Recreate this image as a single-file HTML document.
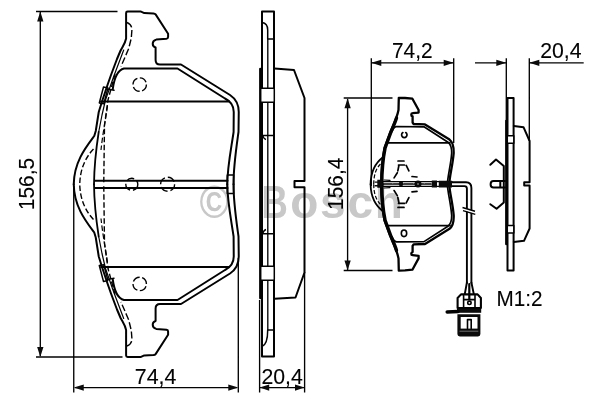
<!DOCTYPE html>
<html>
<head>
<meta charset="utf-8">
<title>Brake pad drawing</title>
<style>
html,body{margin:0;padding:0;background:#fff;}
body{width:600px;height:400px;overflow:hidden;font-family:"Liberation Sans",sans-serif;}
svg{display:block;opacity:0.999;}
text{font-family:"Liberation Sans",sans-serif;fill:#000;stroke:#000;stroke-width:0.12;}
.k{fill:none;stroke:#000;stroke-width:2;stroke-linejoin:round;stroke-linecap:round;}
.m{fill:none;stroke:#000;stroke-width:1.5;stroke-linejoin:round;stroke-linecap:round;}
.t{fill:none;stroke:#000;stroke-width:1.35;}
.d{fill:none;stroke:#000;stroke-width:1.4;stroke-dasharray:5.5 2.5;}
.a{fill:#0a0a0a;stroke:none;}
</style>
</head>
<body>
<svg width="600" height="400" viewBox="0 0 600 400">
<rect width="600" height="400" fill="#fff"/>
<g opacity="0.995">

<!-- watermark -->
<text x="199.4" y="218" font-size="46" font-weight="bold" textLength="29.6" lengthAdjust="spacingAndGlyphs" style="fill:#c8c8c8;stroke:none">©</text>
<text x="261.5" y="218" font-size="46" font-weight="bold" textLength="26.4" lengthAdjust="spacingAndGlyphs" style="fill:#c8c8c8;stroke:none">B</text>
<text x="290.2" y="218" font-size="46" font-weight="bold" style="fill:#c8c8c8;stroke:none;letter-spacing:1.8px">osch</text>

<defs>
<!-- top half of the large pad (mirrored for the bottom half) -->
<g id="LH">
  <!-- outer contour -->
  <path class="k" d="M233.5,184.25 C233.5,166 236,150 238.5,132 L238.75,112 C238.75,104 236,99 230,95 L181,64.5 L160,64.5 Q155.6,64.5 155.6,60 L155.6,47.5 C152,46.5 151.3,41 156.25,39.6 L166.5,38.7 Q168.1,38.5 168.1,37 L168.1,33.75 L155.6,14.4 Q155,13.6 153.5,13.5 L144.3,13.1 L141,11.6 L127.6,11.6 Q126.1,11.6 126.1,13 L126.1,38.5 C125.3,43 123,46 120.6,50.5 L117,59 L111,75 L107.5,85 L102.5,100 L98.75,112 L95.75,131 L94.25,136 C86,147 74,162 73.75,184.25"/>
  <!-- inner contour (shim) -->
  <path class="k" d="M227.3,184.25 C227.5,166 231,150 233.6,132 L233.75,112 C233.75,105 231,101.5 225,98.5 L177.5,68.5 L124,68.5 C118,70 114.5,76 112.75,89"/>
  <!-- inner left edge line -->
  <path class="m" style="stroke-width:1.2" d="M123.7,50 L113.5,77 L105.5,100 L102,115 L98.7,132"/>
  <path class="k" style="stroke-width:1.8" d="M98.7,132 C96.7,145 94.2,165 94,184.25"/>
  <path class="d" style="stroke-width:1.2" d="M107.5,106 C105.5,120 102.5,135 101,150"/>
  <!-- horizontal line -->
  <path class="k" d="M101,101.6 L229,101.6"/>
  <!-- dashed chamfer on ear -->
  <path class="d" style="stroke-dasharray:7 2.5" d="M127,22.5 C130.5,24 132,26.5 131.9,30 L131.3,38 L128.7,48.5 L121,66.5"/>
  <!-- dashed lines along left edge -->
  <path class="d" d="M115,74 L108,100 L104.5,125 L103.75,184.25"/>
  <path class="d" d="M93.5,149 C85,158 80,170 79.75,184.25"/>
  <!-- dashed circle -->
  <circle class="d" cx="139.7" cy="84.6" r="6.7" style="stroke-dasharray:8 2.5"/>
  <!-- clip -->
  <path class="m" d="M103.5,87 L108,88 L103.8,103.8 L99.3,103 Z M107.5,89 L114,90.3"/>
</g>
<!-- top half of the small pad -->
<g id="SH">
  <path class="k" style="stroke-width:2.3" d="M449.3,184.2 C449.5,176 452.6,166 453.7,153 C453.9,147 452.5,142 449.5,139.6 L425,124.4 L413.6,124 L412.6,122.5 L412.6,116.3 C410.8,116 410.8,113.3 412.6,113.2 L418.6,112.6 L418.6,110 L412.4,98.7 L405,98 L398.8,97.8 L398.5,110 C397,118 393,126 390,133 L384.5,148 C382.5,158 381.2,172 381.2,184.2"/>
  <path class="k" style="stroke-width:3.4" d="M396.5,118 C395,123 392.5,128 390.6,133 L385.1,148 C383.1,158 381.8,172 381.8,184.2"/>
  <path class="m" style="stroke-width:1.7" d="M447.4,184.2 C447.6,176 450.7,166 451.7,153 C451.8,148 450.4,144.3 448,142.2 L424,126.8 L396.5,126.5 C394,127 393,129 392,131.5"/>
  <path class="m" style="stroke-width:1.8" d="M387.5,142.8 L450,142.8"/>
  <path class="m" style="stroke-width:1.8" d="M383.3,157 C375,163 370.8,172 370.6,184.2"/>
  <path class="d" style="stroke-dasharray:4 2;stroke-width:1.2" d="M380.5,164 C375.5,169 373.8,176 373.7,184.2"/>
  <!-- sensor pocket (dashed F) -->
  <path class="m" style="stroke-dasharray:6 2;stroke-width:1.7" d="M398,161 L405,161 M398.5,165 L406,165 L409.5,172 M399,165 L397.5,172.5 L394,178 M412,176.5 L417,177"/>
</g>
</defs>

<!-- ================= LARGE PAD (front view) ================= -->
<use href="#LH"/>
<use href="#LH" transform="matrix(1 0 0 -1 0 368.5)"/>
<!-- centre slot -->
<path class="k" d="M95,180.8 L227.5,180.8 M95,188 L227.5,188"/>
<circle class="d" cx="131.8" cy="184.3" r="6" style="stroke-dasharray:8 3"/>
<circle class="d" cx="167.6" cy="184.3" r="7" style="stroke-dasharray:8 3"/>
<rect class="m" x="227.3" y="175" width="6.4" height="18.5"/>

<!-- ================= LARGE PAD (side view) ================= -->
<path class="k" d="M262,11.5 L274,11.5 L274,356.6 L262,356.6 Z"/>
<path class="m" d="M262,22.5 C266,23 267.7,26 267.7,30 L267.7,39 L274,39"/>
<path class="t" d="M267.8,39 L267.8,330 L274,330"/>
<path class="m" d="M267.7,330 C267.7,340 266,345 262,346.5"/>
<path class="k" style="stroke-width:2.4" d="M260.3,69 L260.3,298"/>
<path class="k" d="M274.5,68.5 L294,70 L304.5,98 L304.5,181 L294.5,181 L294.5,187.3 L304.5,187.3 L304.5,272.5 L295.5,297.5 L274.5,298.7"/>
<rect class="m" x="260.7" y="88.3" width="13.6" height="14" rx="1" style="fill:#fff"/>
<rect class="m" x="260.7" y="266.3" width="13.6" height="14" rx="1" style="fill:#fff"/>
<path class="t" d="M262.5,233.7 L274,233.7 M262.5,233.7 C263.5,231 264,230 266,229.5 M262.5,135.5 L274,135.5 M262.5,135.5 C263.5,138 264,139 266,139.5"/>

<!-- ================= DIMENSIONS large pad ================= -->
<path class="t" d="M36,11.5 L117.5,11.5 M36,357 L122.5,357 M40.3,12 L40.3,356 M73.75,186 L73.75,392.5 M238.3,258 L238.3,392.5 M75,387.6 L237,387.6 M259.6,300 L259.6,392.5 M304.6,272 L304.6,392.5 M260,387.6 L304,387.6"/>
<path class="a" d="M40.30,11.60 L37.15,21.60 L43.45,21.60 Z M40.30,357.00 L43.45,347.00 L37.15,347.00 Z M73.75,387.60 L83.75,390.75 L83.75,384.45 Z M238.30,387.60 L228.30,384.45 L228.30,390.75 Z M259.60,387.60 L269.20,390.75 L269.20,384.45 Z M304.60,387.60 L295.00,384.45 L295.00,390.75 Z"/>
<text x="134.8" y="383.5" font-size="22" textLength="41.6" lengthAdjust="spacingAndGlyphs">74,4</text>
<text x="261.4" y="383.5" font-size="22" textLength="41.4" lengthAdjust="spacingAndGlyphs">20,4</text>
<text transform="translate(34.3,210) rotate(-90)" font-size="22" textLength="52" lengthAdjust="spacingAndGlyphs">156,5</text>

<!-- ================= SMALL PAD (front view) ================= -->
<use href="#SH"/>
<use href="#SH" transform="matrix(1 0 0 -1 0 368.4)"/>
<path class="m" style="stroke-width:1.7" d="M402.9,132.6 A2.7,2.7 0 1 0 405.7,132.6"/>
<ellipse class="m" style="stroke-width:1.6" cx="404" cy="233.3" rx="2.7" ry="3.3"/>
<!-- sensor wire -->
<path class="m" style="stroke-width:1.3" d="M383,181.7 L452,181.7 M383,186.3 L452,186.3"/>
<path class="m" style="stroke-width:1.7;stroke-dasharray:9 1.5" d="M383,184 L431,184"/>
<path class="k" style="stroke-width:1.9" d="M452,182.3 L466,182.3 Q471.4,182.3 471.4,188 L471.4,283 M452,186.1 L464.5,186.1 Q466.9,186.1 466.9,188.6 L466.9,283"/>
<path class="a" d="M377.3,179.8 H382.6 V187.8 H377.3 Z M374.6,181.4 H377.5 V182.8 H374.6 Z M374.6,185 H377.5 V186.4 H374.6 Z M431.8,180.6 H437 V187.5 H431.8 Z M438.8,180.8 H452 V187.6 H438.8 Z"/>
<path class="m" style="stroke-width:1.2" d="M384,180 L390,180.4 M384,188 L390,187.6"/>
<circle class="a" cx="401" cy="183.9" r="2.3"/>
<circle class="a" cx="418" cy="184.1" r="3.5"/>
<circle cx="418" cy="184.1" r="1" fill="#777"/>
<path d="M461,208.2 L477,213.2" stroke="#fff" stroke-width="2.6" fill="none"/>
<path class="t" style="stroke-width:1.5" d="M462.5,207.5 L475,211.3 M463,210.6 L475.3,214.4"/>

<!-- connector -->
<path class="k" style="stroke-width:1.9" d="M466.9,282.5 L464.8,294 M471.4,282.5 L473.8,294"/>
<path class="k" style="stroke-width:2.2" d="M469.3,284 L469.3,299"/>
<path class="k" style="stroke-width:2.1" d="M461,294.4 L477.6,294.4 L480.9,298 L480.9,308 L457.6,308 L457.6,298 Z"/>
<path class="m" style="stroke-width:1.6" d="M463.6,295.5 L463.6,308 M475,295.5 L475,308 M463.6,299.6 L475,299.6"/>
<circle class="m" cx="469.4" cy="302.8" r="1.7" style="stroke-width:1.6"/>
<path class="a" d="M457,308.6 H481.2 V312.8 H457 Z"/>
<path class="k" style="stroke-width:3.5" d="M447.2,312 L458,311.5"/>
<path class="a" d="M457.4,314.2 H480.4 V334 Q480.4,336.4 478,336.4 H459.8 Q457.4,336.4 457.4,334 Z"/>
<path d="M460.7,317 H477.5 V328.6 H460.7 Z" fill="#fff"/>
<path class="m" style="stroke-width:1.6" d="M467.5,328.6 L467.5,319.6 L471.2,319.6 L471.2,328.6"/>
<path d="M459.5,331.2 H478.3" stroke="#999" stroke-width="0.7" fill="none"/>

<!-- ================= SMALL PAD (side view) ================= -->
<path class="k" d="M507.5,98 L513.6,98 L513.6,270.5 L507.5,270.5 Z"/>
<path class="k" style="stroke-width:2.4" d="M506.3,121 L506.3,244"/>
<path class="k" d="M513.8,126 L523.6,127.3 L529.6,141 L529.6,182.3 L524.2,182.3 L524.2,185.6 L529.6,185.6 L529.6,228.5 L524,240.8 L513.8,242"/>
<rect class="m" x="507.3" y="135.8" width="6.5" height="7.4" style="fill:#fff"/>
<rect class="m" x="507.3" y="225.6" width="6.5" height="7.4" style="fill:#fff"/>
<path class="k" d="M490.3,164.8 L496,159.6 L503.8,166 L503.8,202.6 L496.6,208.8 L490.3,204.2"/>
<path class="k" d="M505,181 L493.5,181 Q490.6,181 490.6,184.3 Q490.6,187.6 493.5,187.6 L505,187.6 M500.3,181 L500.3,187.6"/>

<!-- ================= DIMENSIONS small pad ================= -->
<path class="t" d="M371.3,58.2 L371.3,186 M453.7,58.2 L453.7,143 M372,62.8 L453,62.8 M343.7,98 L392.5,98 M343.7,270.5 L392.5,270.5 M347.6,99 L347.6,270 M506.3,58.2 L506.3,121 M529.3,58.2 L529.3,141 M475,62.8 L506,62.8 M529.5,62.8 L583.7,62.8"/>
<path class="a" d="M371.30,62.80 L381.30,65.95 L381.30,59.65 Z M453.70,62.80 L443.70,59.65 L443.70,65.95 Z M347.60,98.20 L344.45,108.20 L350.75,108.20 Z M347.60,270.40 L350.75,260.40 L344.45,260.40 Z M506.30,62.80 L496.30,59.65 L496.30,65.95 Z M529.30,62.80 L539.30,65.95 L539.30,59.65 Z"/>
<text x="392" y="57.6" font-size="22" textLength="40.6" lengthAdjust="spacingAndGlyphs">74,2</text>
<text x="540.2" y="57.6" font-size="22" textLength="41.4" lengthAdjust="spacingAndGlyphs">20,4</text>
<text transform="translate(342.6,210) rotate(-90)" font-size="22" textLength="52.4" lengthAdjust="spacingAndGlyphs">156,4</text>
<text x="496.6" y="305.9" font-size="22" textLength="46" lengthAdjust="spacingAndGlyphs">M1:2</text>
</g>
</svg>
</body>
</html>
